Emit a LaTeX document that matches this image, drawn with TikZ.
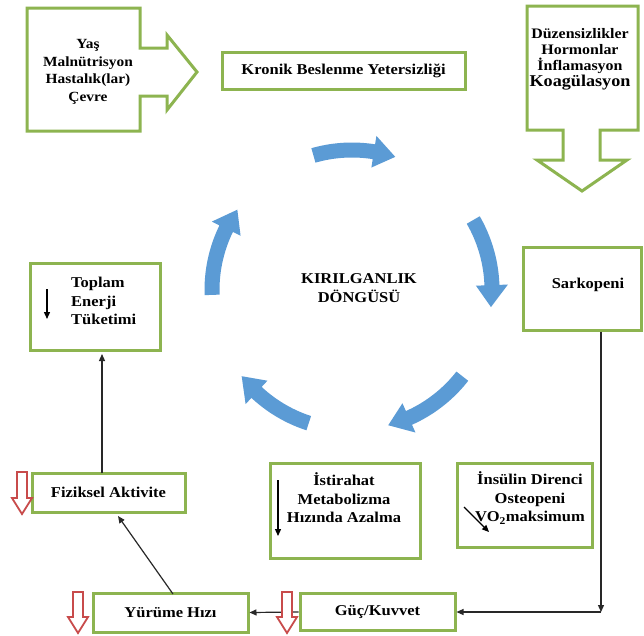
\documentclass[tikz,border=0pt]{standalone}
\usepackage{fontspec}
\setmainfont{Liberation Serif}[FakeStretch=1.1]
\usetikzlibrary{arrows.meta}
\definecolor{boxgreen}{RGB}{141,180,80}
\definecolor{cycblue}{RGB}{91,155,213}
\definecolor{redarr}{RGB}{200,75,75}
\definecolor{connc}{RGB}{40,40,40}
\tikzset{
 gbox/.style={draw=boxgreen, line width=3pt, fill=white, inner sep=0pt},
 gpath/.style={draw=boxgreen, line width=3pt, fill=white, line join=miter},
 txt/.style={font=\bfseries\fontsize{15}{18.5}\selectfont, align=center, text=black, inner sep=0pt},
 calltxt/.style={font=\bfseries\fontsize{14}{17.5}\selectfont, align=center, text=black, inner sep=0pt},
 rcalltxt/.style={font=\bfseries\fontsize{14.5}{16}\selectfont, align=center, text=black, inner sep=0pt},
 conn/.style={draw=connc, line width=1.2pt, -{Triangle[length=7pt,width=6pt]}},
 inarrow/.style={draw=black, line width=1.3pt, -{Triangle[length=7pt,width=6pt]}},
 cyc/.style={fill=cycblue},
 redhollow/.style={draw=redarr, line width=1.8pt, fill=white, line join=miter},
}
\newcommand\cycarrow[2]{%
 \pgfmathsetmacro\ca{-(#1)}\pgfmathsetmacro\cb{-(#2)}\pgfmathsetmacro\ch{-(#2)-9}%
 \fill[cyc] plot[domain=\ca:\ch,samples=24] (\x:132.5) -- (\ch:124) -- (\cb:140) -- (\ch:156) -- plot[domain=\ch:\ca,samples=24] (\x:147.5) -- cycle;}
\newcommand\redarrowshape[3]{%
 \draw[redhollow] ({#1-5},#2) -- ({#1+5},#2) -- ({#1+5},{#3-16}) -- ({#1+10},{#3-16}) -- (#1,#3) -- ({#1-10},{#3-16}) -- ({#1-5},{#3-16}) -- cycle;}
\begin{document}
\begin{tikzpicture}[x=1pt,y=-1pt]
\useasboundingbox (0,0) rectangle (644,635);
\fill[white] (0,0) rectangle (644,635);

% cycle arrows
\begin{scope}[shift={(352,290)}]
\cycarrow{106}{72}
\cycarrow{30}{-7}
\cycarrow{-38}{-75}
\cycarrow{252}{218}
\cycarrow{182}{145}
\end{scope}
\node[txt] (cycle) at (359,288) {KIRILGANLIK\\DÖNGÜSÜ};

% left callout
\draw[gpath] (27,8) -- (140,8) -- (140,48) -- (167,48) -- (167,35) -- (197,72) -- (167,110) -- (167,96) -- (140,96) -- (140,131) -- (27,131) -- cycle;
\node[calltxt] (causes) at (88,72) {Yaş\\Malnütrisyon\\Hastalık(lar)\\Çevre};

% right callout
\draw[gpath] (527,6) -- (638,6) -- (638,130) -- (600,130) -- (600,160) -- (627,160) -- (582,191) -- (537,160) -- (563,160) -- (563,130) -- (527,130) -- cycle;
\node[rcalltxt] (disorders) at (580,59) {Düzensizlikler\\Hormonlar\\İnflamasyon\\{\fontsize{16.5}{16}\selectfont Koagülasyon}};

% boxes
\node[gbox, minimum width=243pt, minimum height=37pt, txt] (kronik) at (343.5,70.5) {Kronik Beslenme Yetersizliği};
\node[gbox, minimum width=118pt, minimum height=83pt] (sarko) at (582,288.5) {};
\node[txt] (sarkotxt) at (588,285) {Sarkopeni};
\node[gbox, minimum width=130pt, minimum height=87pt] (toplam) at (95,306.5) {};
\node[txt, align=left, anchor=north west] (toplamtxt) at (71,277) {Toplam\\Enerji\\Tüketimi};
\coordinate (ta1) at (47,289);
\coordinate (ta2) at (47,319);
\draw[inarrow] (ta1) -- (ta2);

\node[gbox, minimum width=153pt, minimum height=39pt, txt] (fiz) at (108.5,492.5) {Fiziksel Aktivite};
\node[gbox, minimum width=155pt, minimum height=39pt, txt] (yur) at (170.5,612.5) {Yürüme Hızı};
\node[gbox, minimum width=155pt, minimum height=37pt, txt] (guc) at (377.5,612) {Güç/Kuvvet};

\node[gbox, minimum width=150pt, minimum height=95pt] (ist) at (345,510.5) {};
\node[txt] (isttxt) at (344,498) {İstirahat\\Metabolizma\\Hızında Azalma};
\coordinate (ia1) at (278,480);
\coordinate (ia2) at (278,536);
\draw[inarrow] (ia1) -- (ia2);

\node[gbox, minimum width=135pt, minimum height=84pt] (ins) at (524.5,505) {};
\node[txt] (instxt) at (530,498) {İnsülin Direnci\\Osteopeni\\VO\textsubscript{2}maksimum};
\coordinate (va1) at (464,507);
\coordinate (va2) at (489,532);
\draw[inarrow, line width=1.2pt] (va1) -- (va2);

% connectors
\coordinate (corner) at (601,612);
\draw[conn] (sarko.south -| corner) -- (corner);
\draw[conn] (corner) -- (guc.east);
\draw[conn] (guc.west) -- (yur.east);
\coordinate (yurtop) at (173,594);
\coordinate (fizbot) at (118,516);
\draw[conn] (yurtop) -- (fizbot);
\coordinate (fiztop) at (102,473);
\coordinate (toplambot) at (102,354);
\draw[conn] (fiztop) -- (toplambot);

% red hollow arrows
\redarrowshape{22}{472}{514}
\redarrowshape{78}{592}{633}
\redarrowshape{287}{592}{633}
\end{tikzpicture}
\end{document}
